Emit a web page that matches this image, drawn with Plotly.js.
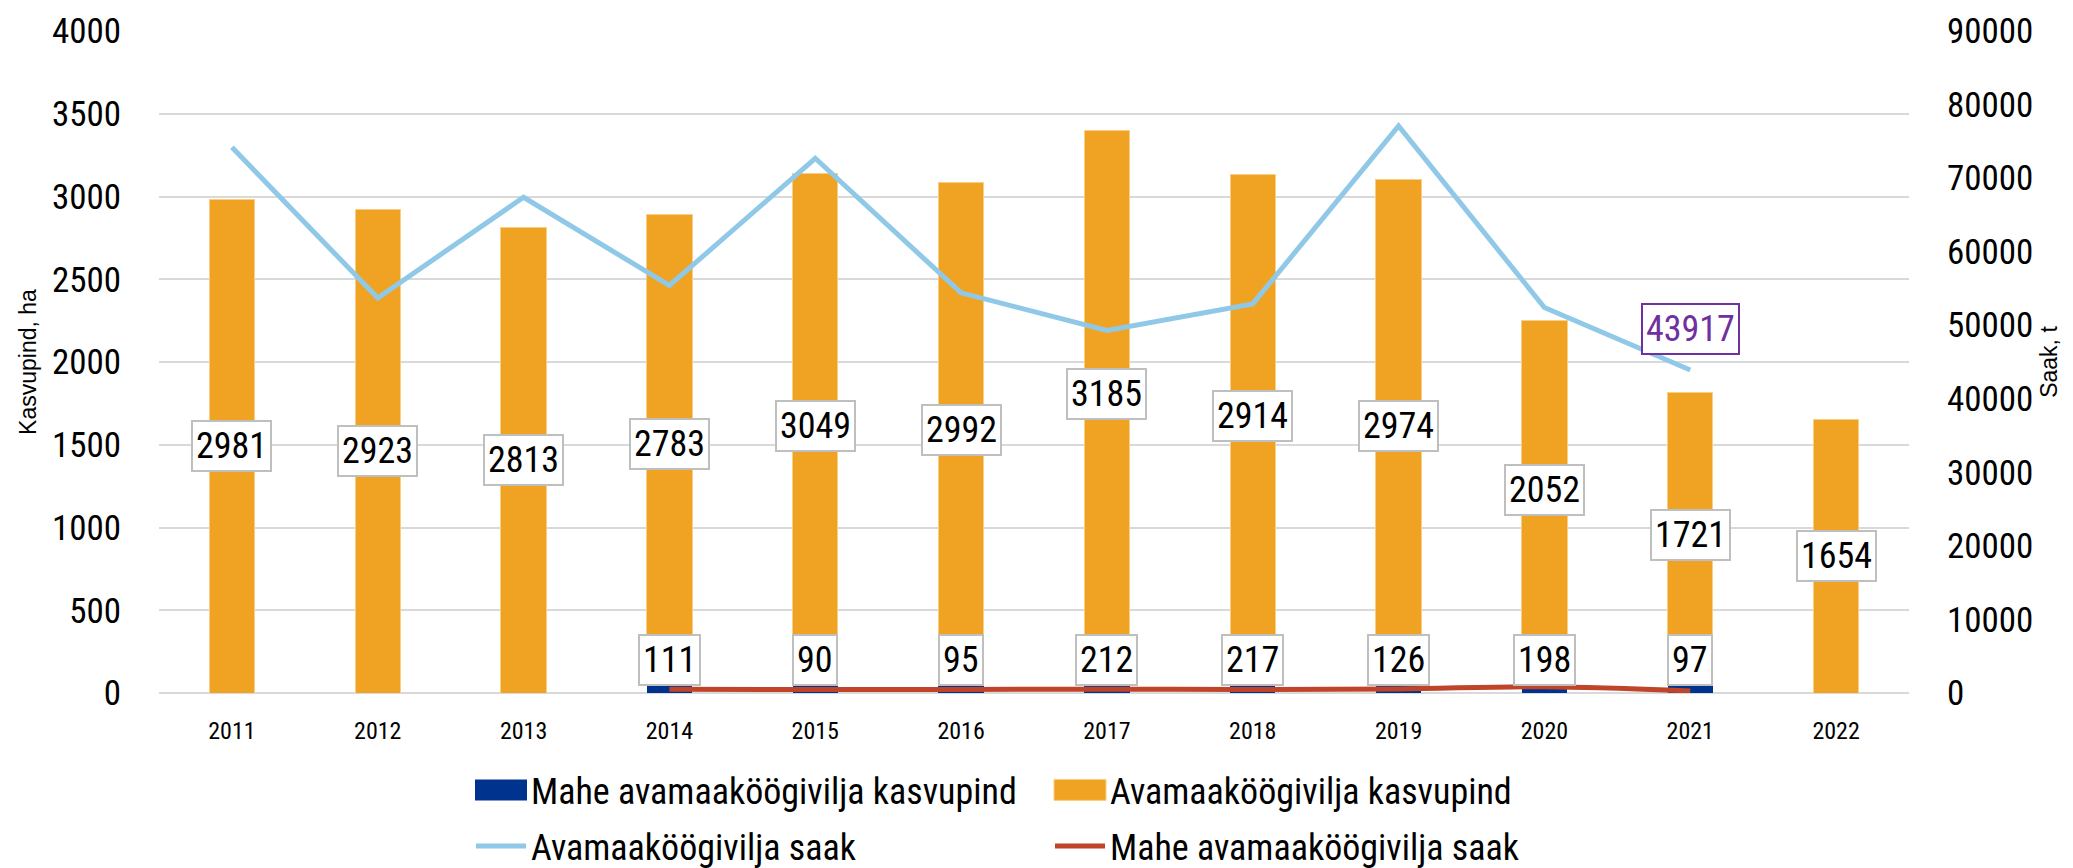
<!DOCTYPE html>
<html><head><meta charset="utf-8">
<script src="https://cdn.plot.ly/plotly-3.0.1.min.js"></script>
<style>html,body{margin:0;padding:0;background:#fff}#chart{width:2073px;height:868px}</style>
</head><body><div id="chart"></div>
<script>
const years = ['2011','2012','2013','2014','2015','2016','2017','2018','2019','2020','2021','2022'];
const maheArea = [null,null,null,111,90,95,212,217,126,198,97,null];
const avaArea = [2981,2923,2813,2783,3049,2992,3185,2914,2974,2052,1721,1654];
const avaHarvest = [74200,53700,67400,55400,72700,54400,49300,52900,77100,52400,43917,null];
const maheHarvest = [null,null,null,500,470,480,520,480,560,850,280,null];
const highlightIndex = 10;

const NARROW = "'Roboto Condensed','Liberation Sans Narrow','Arial Narrow',sans-serif";
const REG = "'Liberation Sans',Arial,sans-serif";

const traces = [
  {type:'bar', name:'Mahe avamaaköögivilja kasvupind', x:years, y:maheArea,
   marker:{color:'#00338D'}, width:0.31, legend:'legend'},
  {type:'bar', name:'Avamaaköögivilja kasvupind', x:years, y:avaArea,
   marker:{color:'#F0A323', line:{color:'#F8CF85', width:1}}, width:0.31, legend:'legend'},
  {type:'scatter', mode:'lines', name:'Avamaaköögivilja saak', x:years, y:avaHarvest, yaxis:'y2',
   line:{color:'#90C8E7', width:5}, legend:'legend2'},
  {type:'scatter', mode:'lines', name:'Mahe avamaaköögivilja saak', x:years, y:maheHarvest, yaxis:'y2',
   line:{color:'#C0442A', width:5, shape:'spline'}, legend:'legend2'}
];

const annotations = [];
const boxStyle = {showarrow:false, bgcolor:'#ffffff', bordercolor:'#BFBFBF', borderwidth:2, borderpad:3,
  font:{family:NARROW, size:36, color:'#000'}};
years.forEach((yr,i)=>{
  const base = maheArea[i] || 0;
  annotations.push(Object.assign({}, boxStyle, {x:i, y: base + avaArea[i]/2, xref:'x', yref:'y',
    text:String(avaArea[i]), yanchor:'middle'}));
  if (maheArea[i] != null) {
    annotations.push(Object.assign({}, boxStyle, {x:i, y:0, xref:'x', yref:'y', yanchor:'bottom', yshift:7,
      text:String(maheArea[i])}));
  }
});
annotations.push({x:highlightIndex, y:avaHarvest[highlightIndex], xref:'x', yref:'y2', showarrow:false,
  yshift:41, text:String(avaHarvest[highlightIndex]), bgcolor:'#ffffff', bordercolor:'#7030A0', borderwidth:2, borderpad:3,
  font:{family:NARROW, size:36, color:'#7030A0'}});

const layout = {
  width:2073, height:868,
  margin:{l:159, r:164, t:31, b:175},
  paper_bgcolor:'#fff', plot_bgcolor:'#fff',
  barmode:'stack',
  showlegend:true,
  font:{family:NARROW, color:'#000'},
  xaxis:{type:'category', range:[-0.5, years.length-0.5], autorange:false,
    tickfont:{family:NARROW, size:24, color:'#000'}, ticks:'outside', ticklen:16, tickcolor:'rgba(0,0,0,0)',
    showline:false, showgrid:false, fixedrange:true},
  yaxis:{range:[0,4000], autorange:false, dtick:500, tickfont:{family:NARROW, size:35, color:'#000'}, gridcolor:'#D9D9D9', gridwidth:2,
    zeroline:true, zerolinecolor:'#D9D9D9', zerolinewidth:2, ticks:'outside', ticklen:30, tickcolor:'rgba(0,0,0,0)',
    title:{text:'Kasvupind, ha', font:{family:REG, size:23, color:'#000'}, standoff:8}},
  yaxis2:{range:[0,90000], autorange:false, dtick:10000, tickformat:'d', overlaying:'y', side:'right', showgrid:false, zeroline:false,
    tickfont:{family:NARROW, size:35, color:'#000'}, ticks:'outside', ticklen:30, tickcolor:'rgba(0,0,0,0)',
    title:{text:'Saak, t', font:{family:REG, size:23, color:'#000'}, standoff:8}},
  legend:{orientation:'h', traceorder:'normal', xref:'container', yref:'container', x:471/2073, y:1-790/868, xanchor:'left', yanchor:'middle',
    font:{family:NARROW, size:36, color:'#000'}, entrywidth:514, itemwidth:50, bgcolor:'rgba(0,0,0,0)'},
  legend2:{orientation:'h', traceorder:'normal', xref:'container', yref:'container', x:471/2073, y:1-846/868, xanchor:'left', yanchor:'middle',
    font:{family:NARROW, size:36, color:'#000'}, entrywidth:514, itemwidth:50, bgcolor:'rgba(0,0,0,0)'},
  annotations:annotations
};
Plotly.newPlot('chart', traces, layout, {displayModeBar:false, staticPlot:true}).then(gd=>{
  // enlarge bar legend swatches to rectangles like the original
  gd.querySelectorAll('.legendpoints path').forEach(p=>{
    if ((p.getAttribute('d')||'').replace(/\s/g,'') === 'M6,6H-6V-6H6Z') {
      p.setAttribute('d','M26,10.5H-26V-10.5H26Z');
    }
  });
});
</script></body></html>
